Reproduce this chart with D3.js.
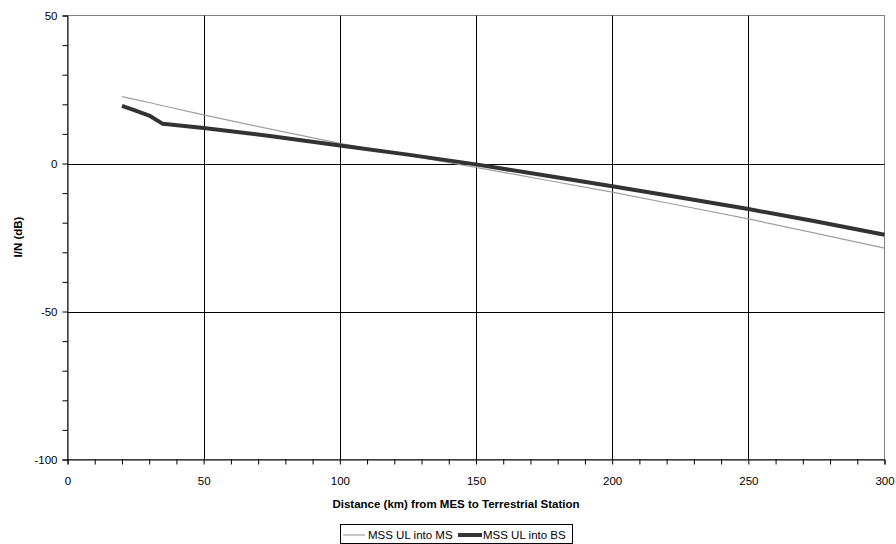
<!DOCTYPE html>
<html><head><meta charset="utf-8">
<script src="https://cdn.jsdelivr.net/npm/d3@7"></script>
<style>body{margin:0;background:#fff;} svg{display:block;font-family:"Liberation Sans",Arial,sans-serif;}</style>
</head><body><svg id="c" width="896" height="544"></svg>
<script>
const distances = [20,25,30,35,50,75,100,125,150,175,200,225,250,275,300];
const msValues  = [22.6,21.6,20.6,19.5,16.4,11.5,6.8,2.7,-1.3,-5.5,-9.7,-14.2,-18.7,-23.6,-28.6];
const bsValues  = [19.5,17.9,16.2,13.4,12.0,9.2,6.1,3.0,-0.3,-4.0,-7.7,-11.5,-15.4,-19.6,-24.1];
const seriesNames = ["MSS UL into MS","MSS UL into BS"];
const xTicks = [0,50,100,150,200,250,300];
const yTicks = [50,0,-50,-100];

const svg = d3.select("#c");
const L=67.5, R=884.5, T=15.5, B=459.5;
const x = d3.scaleLinear().domain([0,300]).range([L,R]);
const y = d3.scaleLinear().domain([-100,50]).range([B,T]);
const FS = 11.5;

// plot border
svg.append("rect").attr("x",L).attr("y",T).attr("width",R-L).attr("height",B-T)
  .attr("fill","none").attr("stroke","#808080");
// gridlines
svg.append("g").selectAll("line").data(xTicks.filter(d=>d>0&&d<300)).join("line")
  .attr("x1",d=>Math.round(x(d))+0.5).attr("x2",d=>Math.round(x(d))+0.5).attr("y1",T).attr("y2",B)
  .attr("stroke","#000");
svg.append("g").selectAll("line").data(yTicks.filter(d=>d>-100&&d<50)).join("line")
  .attr("y1",d=>Math.round(y(d))+0.5).attr("y2",d=>Math.round(y(d))+0.5).attr("x1",L).attr("x2",R)
  .attr("stroke","#000");

// axes
const xAxis = d3.axisBottom(x).tickValues(d3.range(0,301,10)).tickSize(5)
  .tickFormat(d=>xTicks.includes(d)?d:"");
const gx = svg.append("g").attr("transform",`translate(0,${B})`).call(xAxis);
gx.select(".domain").attr("stroke","#000");
gx.selectAll(".tick line").attr("stroke","#000");
gx.selectAll(".tick text").attr("font-size",FS).attr("fill","#000").attr("dy","1.55em")
  .attr("font-family","Liberation Sans, Arial, sans-serif");

const yAxis = d3.axisLeft(y).tickValues(d3.range(-100,51,10)).tickSize(5)
  .tickFormat(d=>yTicks.includes(d)?d:"");
const gy = svg.append("g").attr("transform",`translate(${L},0)`).call(yAxis);
gy.select(".domain").attr("stroke","#000");
gy.selectAll(".tick line").attr("stroke","#000");
gy.selectAll(".tick text").attr("font-size",FS).attr("fill","#000").attr("x",-10)
  .attr("font-family","Liberation Sans, Arial, sans-serif");

// lines
const line = vals => d3.line().x((d,i)=>x(distances[i])).y(d=>y(d))(vals);
svg.append("path").attr("d",line(msValues)).attr("fill","none").attr("stroke","#a0a0a0").attr("stroke-width",1.2);
svg.append("path").attr("d",line(bsValues)).attr("fill","none").attr("stroke","#333").attr("stroke-width",4)
  .attr("stroke-linejoin","round");

// titles
svg.append("text").attr("x",456).attr("y",508).attr("text-anchor","middle")
  .attr("font-size",FS).attr("font-weight","bold").text("Distance (km) from MES to Terrestrial Station");
svg.append("text").attr("transform","translate(22,237) rotate(-90)").attr("text-anchor","middle")
  .attr("font-size",FS).attr("font-weight","bold").text("I/N (dB)");

// legend
const lg = svg.append("g");
lg.append("rect").attr("x",340.5).attr("y",524.5).attr("width",232).attr("height",19)
  .attr("fill","#fff").attr("stroke","#000");
lg.append("line").attr("x1",343).attr("x2",365).attr("y1",535).attr("y2",535).attr("stroke","#a0a0a0").attr("stroke-width",1.2);
lg.append("text").attr("x",368).attr("y",539).attr("font-size",FS).text(seriesNames[0]);
lg.append("line").attr("x1",458).attr("x2",482).attr("y1",535).attr("y2",535).attr("stroke","#333").attr("stroke-width",4);
lg.append("text").attr("x",483).attr("y",539).attr("font-size",FS).text(seriesNames[1]);
</script></body></html>
